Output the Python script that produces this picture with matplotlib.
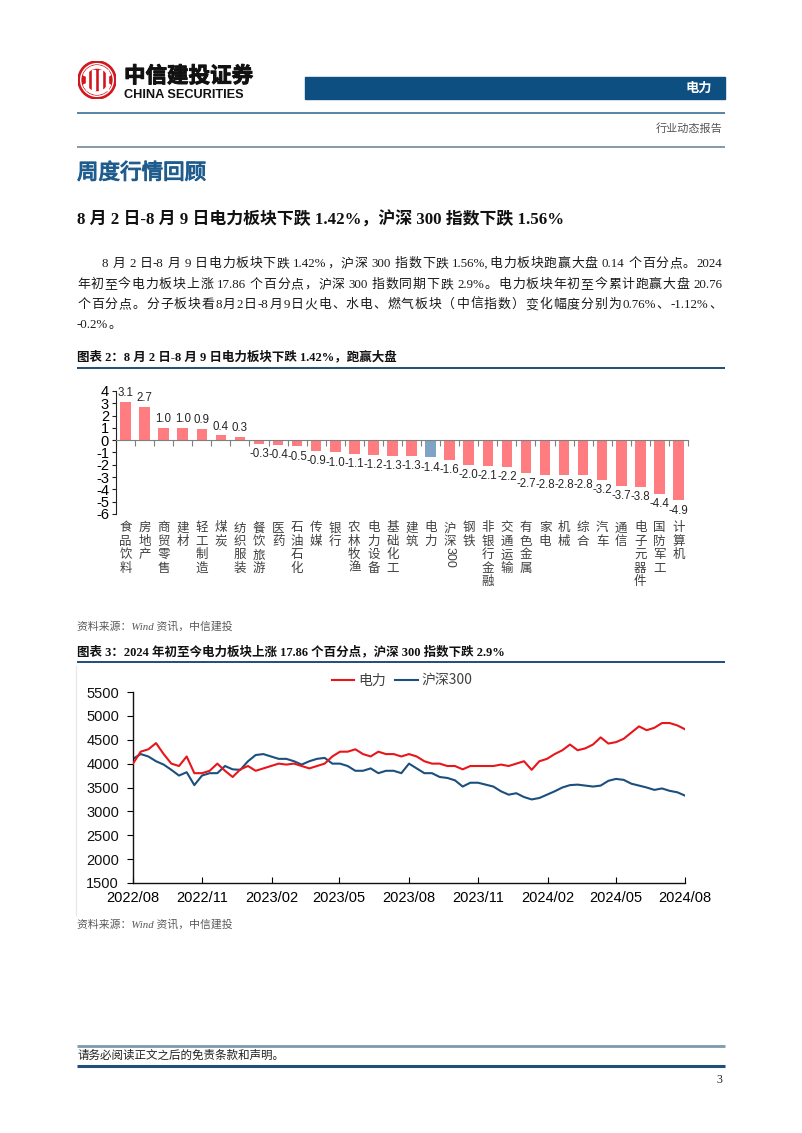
import re
import matplotlib
matplotlib.use('Agg')
import matplotlib.pyplot as plt
import matplotlib.patheffects as pe
import numpy as np
import pandas as pd
from matplotlib.patches import Rectangle, Circle, Wedge
from matplotlib.lines import Line2D
import matplotlib.transforms as mtransforms
import matplotlib.dates as mdates

# ---------------- data ----------------
bar_categories = ['食品饮料', '房地产', '商贸零售', '建材', '轻工制造', '煤炭', '纺织服装',
                  '餐饮旅游', '医药', '石油石化', '传媒', '银行', '农林牧渔', '电力设备',
                  '基础化工', '建筑', '电力', '沪深300', '钢铁', '非银行金融', '交通运输',
                  '有色金属', '家电', '机械', '综合', '汽车', '通信', '电子元器件',
                  '国防军工', '计算机']
bar_values = [3.1, 2.7, 1.0, 1.0, 0.9, 0.4, 0.3, -0.3, -0.4, -0.5, -0.9, -1.0, -1.1, -1.2,
              -1.3, -1.3, -1.4, -1.6, -2.0, -2.1, -2.2, -2.7, -2.8, -2.8, -2.8, -3.2, -3.7,
              -3.8, -4.4, -4.9]
highlight_category = '电力'

line_start = '2022-08-09'
line_end = '2024-08-09'
power_index = [4000, 4250, 4300, 4430, 4200, 4000, 3950, 4150, 3800, 3800, 3850, 4000,
               3850, 3720, 3880, 3950, 3850, 3900, 3950, 4000, 3980, 4000, 3950, 3900,
               3950, 4000, 4150, 4250, 4250, 4300, 4200, 4150, 4250, 4200, 4200, 4150,
               4200, 4150, 4050, 4000, 4000, 3950, 3950, 3880, 3950, 3950, 3950, 3950,
               3980, 3950, 4000, 4050, 3870, 4050, 4100, 4200, 4280, 4400, 4280, 4320,
               4400, 4550, 4420, 4450, 4520, 4650, 4780, 4700, 4750, 4850, 4850, 4800,
               4720]
hs300_index = [4100, 4200, 4150, 4050, 3980, 3870, 3750, 3820, 3550, 3750, 3800, 3800,
               3950, 3880, 3870, 4050, 4180, 4200, 4150, 4100, 4100, 4050, 3980, 4050,
               4100, 4120, 4000, 4000, 3950, 3850, 3850, 3900, 3800, 3850, 3850, 3800,
               4000, 3900, 3800, 3800, 3720, 3700, 3650, 3520, 3600, 3600, 3560, 3520,
               3420, 3350, 3380, 3300, 3250, 3280, 3350, 3420, 3500, 3550, 3560, 3540,
               3520, 3540, 3640, 3680, 3660, 3580, 3540, 3500, 3450, 3480, 3430, 3400,
               3330]
line_xticks = ['2022-08-09', '2022-11-09', '2023-02-09', '2023-05-09', '2023-08-09',
               '2023-11-09', '2024-02-09', '2024-05-09', '2024-08-09']
line_yticks = [1500, 2000, 2500, 3000, 3500, 4000, 4500, 5000, 5500]
series_names = ['电力', '沪深300']

para_lines = [
    '8 月 2 日-8 月 9 日电力板块下跌 1.42%，沪深 300 指数下跌 1.56%,电力板块跑赢大盘 0.14 个百分点。2024',
    '年初至今电力板块上涨 17.86 个百分点，沪深 300 指数同期下跌 2.9%。电力板块年初至今累计跑赢大盘 20.76',
    '个百分点。分子板块看8月2日-8月9日火电、水电、燃气板块（中信指数）变化幅度分别为0.76%、-1.12%、',
    '-0.2%。',
]

# ---------------- page ----------------
W, H = 802, 1133
fig = plt.figure(figsize=(W / 100, H / 100), dpi=100)
fig.patch.set_facecolor('white')


def fx(x):
    return x / W


def fy(y):
    return 1 - y / H


CJK = 'Noto Sans CJK SC'
SERIF = ['Liberation Serif', CJK]
SANS = ['Liberation Sans', CJK]
plt.rcParams['font.family'] = SANS
plt.rcParams['axes.unicode_minus'] = False

renderer = fig.canvas.get_renderer()


def hline(y, x0=77, x1=725, color='#1F4E79', lw=1.0):
    fig.add_artist(Line2D([fx(x0), fx(x1)], [fy(y), fy(y)], transform=fig.transFigure,
                          color=color, lw=lw, solid_capstyle='butt'))


def txt(x, y, s, **kw):
    kw.setdefault('va', 'center')
    return fig.text(fx(x), fy(y), s, **kw)


def justify(s, x0, x1, y, size, family=SERIF, color='#1a1a1a', weight='normal'):
    toks = re.findall(r'[0-9A-Za-z.%,\-]+| |.', s)
    widths = []
    for t in toks:
        if t == ' ':
            widths.append(size * 100 / 72 * 0.3)
        else:
            tt = fig.text(0, 0, t, fontsize=size, family=family, weight=weight)
            widths.append(tt.get_window_extent(renderer).width)
            tt.remove()
    total = sum(widths)
    ngaps = sum(1 for a, b in zip(toks[:-1], toks[1:]) if a != ' ' and b != ' ')
    gap = ((x1 - x0) - total) / ngaps if (x1 is not None and ngaps > 0) else 0
    x = x0
    for k, (t, w) in enumerate(zip(toks, widths)):
        if t != ' ':
            txt(x, y, t, fontsize=size, family=family, color=color, ha='left', weight=weight)
        x += w
        if k + 1 < len(toks) and t != ' ' and toks[k + 1] != ' ':
            x += gap


# ---- header ----
logo = fig.add_axes([fx(78), fy(99), 38 / W, 38 / H])
logo.set_xlim(-1, 1)
logo.set_ylim(-1, 1)
logo.set_aspect('equal')
logo.axis('off')
logo.add_patch(Circle((0, 0), 1.0, color='#D2161E'))
logo.add_patch(Circle((0, 0), 0.86, fill=False, ec='white', lw=1.0))
for xc in [-0.52, -0.2, 0.2, 0.52]:
    logo.add_patch(Rectangle((xc - 0.07, -0.55), 0.14, 1.1, color='white'))
logo.add_patch(Wedge((0, 0), 0.75, 200, 340, width=0.12, color='white'))
logo.add_patch(Wedge((0, 0), 0.75, 20, 160, width=0.12, color='white'))

txt(124, 76, '中信建投证券', fontsize=15.5, family=[CJK], weight='bold', color='#111111', ha='left',
    path_effects=[pe.withStroke(linewidth=0.7, foreground='#111111')])
txt(124, 95, 'CHINA SECURITIES', fontsize=9.2, family=['Liberation Sans'], weight='bold',
    color='#111111', ha='left')

fig.add_artist(Rectangle((fx(305), fy(99)), (725 - 305) / W, 22 / H, transform=fig.transFigure,
                         color='#0D4F80'))
txt(712, 88, '电力', fontsize=9.5, family=[CJK], weight='bold', color='white', ha='right')
hline(113, color='#3B6E93', lw=1.2)
txt(722, 128, '行业动态报告', fontsize=8, family=SERIF, color='#555555', ha='right')
hline(147, color='#6F8898', lw=1.2)

# ---- section titles & paragraph ----
txt(77, 173, '周度行情回顾', fontsize=15.5, family=[CJK], color='#1F5C8E', ha='left',
    path_effects=[pe.withStroke(linewidth=0.8, foreground='#1F5C8E')])
txt(77, 220, '8 月 2 日-8 月 9 日电力板块下跌 1.42%，沪深 300 指数下跌 1.56%', fontsize=12.2,
    family=SERIF, weight='bold', color='#111111', ha='left')

para_y = [264, 285, 305, 325]
for i, line in enumerate(para_lines):
    x0 = 102 if i == 0 else 77
    x1 = 722 if i < 3 else None
    justify(line, x0, x1, para_y[i], 9.3)

# ---- figure 2 ----
txt(77, 357, '图表 2：8 月 2 日-8 月 9 日电力板块下跌 1.42%，跑赢大盘', fontsize=9, family=SERIF,
    weight='bold', color='#111111', ha='left')
hline(368, color='#1F4E79', lw=1.4)

ax = fig.add_axes([fx(116), fy(514), (688 - 116) / W, (514 - 391) / H])
xs = np.arange(len(bar_categories))
bar_colors = ['#7FA3C4' if c == highlight_category else '#FF7C80' for c in bar_categories]
ax.bar(xs, bar_values, width=0.55, color=bar_colors, zorder=2)
ax.set_xlim(-0.5, len(bar_categories) - 0.5)
ax.set_ylim(-6, 4)
ax.set_yticks(range(-6, 5))
ax.set_yticklabels([str(v) for v in range(-6, 5)], fontsize=10.5, family=['Liberation Sans'])
for s in ['top', 'right']:
    ax.spines[s].set_visible(False)
ax.spines['bottom'].set_position(('data', 0))
ax.spines['bottom'].set_color('#7F7F7F')
ax.spines['left'].set_color('#222222')
ax.set_xticks(np.arange(-0.5, len(bar_categories), 1.0))
ax.set_xticklabels([])
ax.tick_params(axis='x', direction='out', length=4, color='#7F7F7F')
ax.tick_params(axis='y', direction='out', length=3, pad=2, color='#222222')
ax.patch.set_alpha(0)

for i, v in enumerate(bar_values):
    if v >= 0:
        ax.annotate(f'{v:.1f}', (i, v), xytext=(0, 2), textcoords='offset points', ha='center',
                    va='bottom', fontsize=8.3, family=['Liberation Sans'], color='#262626')
    else:
        ax.annotate(f'{v:.1f}', (i, v), xytext=(0, -3), textcoords='offset points', ha='center',
                    va='top', fontsize=8.3, family=['Liberation Sans'], color='#262626')

trans = mtransforms.blended_transform_factory(ax.transData, ax.transAxes)
lab_top = -0.06
for i, c in enumerate(bar_categories):
    if c.endswith('300'):
        head = c[:-3]
        ax.text(i, lab_top, '\n'.join(head), transform=trans, ha='center', va='top',
                fontsize=9, family=[CJK], color='#404040', linespacing=1.05)
        ax.text(i, lab_top - 0.205, c[-3:], transform=trans, ha='center', va='top',
                rotation=-90, fontsize=9, family=['Liberation Sans'], color='#404040')
    else:
        ax.text(i, lab_top, '\n'.join(c), transform=trans, ha='center', va='top',
                fontsize=9, family=[CJK], color='#404040', linespacing=1.05)

txt(77, 626, '资料来源：Wind 资讯，中信建投', fontsize=7.8, family=SERIF, style='italic',
    color='#595959', ha='left')

# ---- figure 3 ----
txt(77, 652, '图表 3：2024 年初至今电力板块上涨 17.86 个百分点，沪深 300 指数下跌 2.9%', fontsize=9,
    family=SERIF, weight='bold', color='#111111', ha='left')
hline(662, color='#1F4E79', lw=1.4)
fig.add_artist(Line2D([fx(76), fx(76)], [fy(666), fy(915)], transform=fig.transFigure,
                      color='#E6E6E6', lw=0.8))

ax2 = fig.add_axes([fx(133), fy(883), (685 - 133) / W, (883 - 692) / H])
dates = pd.date_range(line_start, line_end, periods=len(power_index))
ax2.plot(dates, power_index, color='#E8151B', lw=1.5, label=series_names[0], zorder=3)
ax2.plot(dates, hs300_index, color='#1B4F7E', lw=1.5, label=series_names[1], zorder=2)
ax2.set_xlim(pd.Timestamp(line_start), pd.Timestamp(line_end))
ax2.set_ylim(line_yticks[0], line_yticks[-1])
ax2.set_yticks(line_yticks)
ax2.set_yticklabels([str(v) for v in line_yticks], fontsize=10.5, family=['Liberation Sans'],
                    color='#111111')
ax2.set_xticks(pd.to_datetime(line_xticks))
ax2.xaxis.set_major_formatter(mdates.DateFormatter('%Y/%m'))
for lbl in ax2.get_xticklabels():
    lbl.set_fontsize(10.5)
    lbl.set_family(['Liberation Sans'])
for s in ['top', 'right']:
    ax2.spines[s].set_visible(False)
for s in ['left', 'bottom']:
    ax2.spines[s].set_color('#111111')
    ax2.spines[s].set_linewidth(1.0)
ax2.tick_params(axis='x', direction='in', length=4, pad=6, labelsize=10.5)
ax2.tick_params(axis='y', direction='out', length=4, pad=6)
leg = ax2.legend(loc='center', bbox_to_anchor=(fx(402), fy(681)), bbox_transform=fig.transFigure,
                 ncol=2, frameon=False, handlelength=1.6, handletextpad=0.25, columnspacing=0.7,
                 prop={'family': [CJK], 'size': 10})
for t in leg.get_texts():
    t.set_color('#404040')

txt(77, 924, '资料来源：Wind 资讯，中信建投', fontsize=7.8, family=SERIF, style='italic',
    color='#595959', ha='left')

# ---- footer ----
hline(1046, color='#7D9BAE', lw=2.0)
txt(77, 1056, '请务必阅读正文之后的免责条款和声明。', fontsize=8.3, family=SERIF, color='#222222',
    ha='left')
hline(1066, color='#1F4E79', lw=2.2)
txt(722, 1080, '3', fontsize=8.5, family=SERIF, color='#222222', ha='right')

fig.savefig('out.png', dpi=100, facecolor='white')
